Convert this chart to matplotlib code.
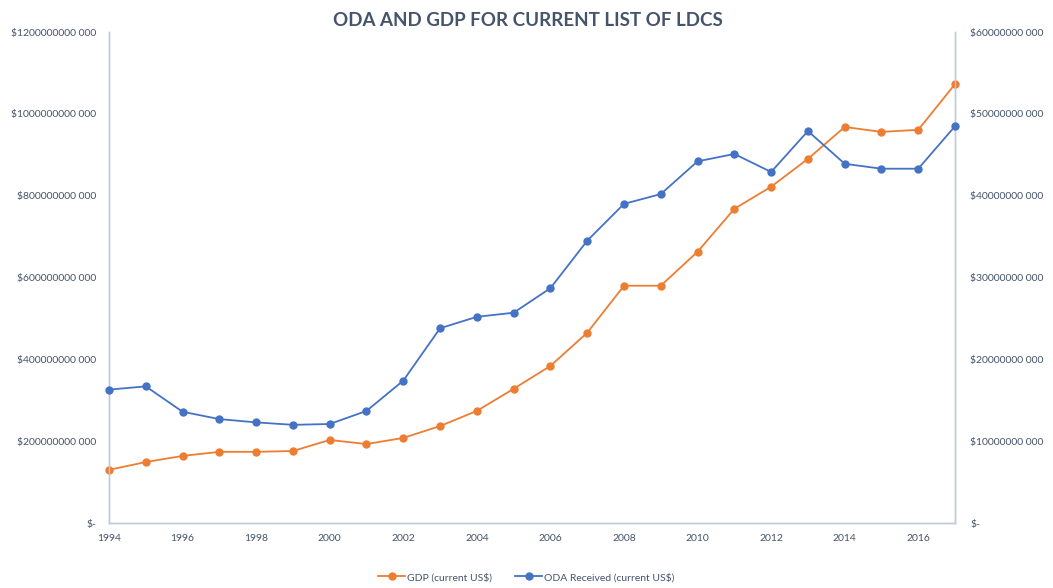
import matplotlib
matplotlib.use("Agg")
import matplotlib.pyplot as plt
from matplotlib.ticker import FixedLocator, FuncFormatter

years = list(range(1994, 2018))
gdp = [130e9, 149e9, 164e9, 174e9, 174e9, 176e9, 203e9, 193e9, 208e9, 237e9,
       274e9, 328e9, 384e9, 465e9, 580e9, 580e9, 663e9, 768e9, 822e9, 890e9,
       968e9, 956e9, 961e9, 1073e9]
oda = [16.3e9, 16.7e9, 13.6e9, 12.7e9, 12.3e9, 12.0e9, 12.1e9, 13.7e9, 17.4e9, 23.8e9,
       25.2e9, 25.7e9, 28.7e9, 34.5e9, 39.0e9, 40.2e9, 44.2e9, 45.1e9, 42.9e9, 47.9e9,
       43.9e9, 43.3e9, 43.3e9, 48.5e9]
x_ticks = list(range(1994, 2017, 2))
left_ticks = [0, 200e9, 400e9, 600e9, 800e9, 1000e9, 1200e9]
right_ticks = [0, 10e9, 20e9, 30e9, 40e9, 50e9, 60e9]
title = "ODA AND GDP FOR CURRENT LIST OF LDCS"
gdp_label = "GDP (current US$)"
oda_label = "ODA Received (current US$)"

plt.rcParams['font.family'] = ['Lato', 'DejaVu Sans']
TXT = '#44546A'
SPINE = '#C0C9D9'
ORANGE = '#ED7D31'
BLUE = '#4472C4'


def fmt(v, pos):
    if v == 0:
        return '$-'
    s = str(int(round(v)))
    return '$' + s[:-3] + ' ' + s[-3:]


fig = plt.figure(figsize=(10.53, 5.88), dpi=100)
ax = fig.add_axes([0.1035, 0.1105, 0.8035, 0.835])
ax2 = ax.twinx()

l1, = ax.plot(years, gdp, color=ORANGE, marker='o', markersize=5, linewidth=1.3,
              label=gdp_label, clip_on=False, zorder=3)
l2, = ax2.plot(years, oda, color=BLUE, marker='o', markersize=5, linewidth=1.3,
               label=oda_label, clip_on=False, zorder=3)

ax.set_xlim(1994, 2017)
ax.set_ylim(0, 1200e9)
ax2.set_ylim(0, 60e9)
ax.xaxis.set_major_locator(FixedLocator(x_ticks))
ax.yaxis.set_major_locator(FixedLocator(left_ticks))
ax2.yaxis.set_major_locator(FixedLocator(right_ticks))
ax.yaxis.set_major_formatter(FuncFormatter(fmt))
ax2.yaxis.set_major_formatter(FuncFormatter(fmt))

for a in (ax, ax2):
    a.spines['top'].set_visible(False)
    for s in ('left', 'right', 'bottom'):
        a.spines[s].set_color(SPINE)
        a.spines[s].set_linewidth(1.0)
    a.tick_params(axis='both', length=0, colors=TXT, labelsize=7.5)
ax.tick_params(axis='y', pad=9)
ax2.tick_params(axis='y', pad=11)
ax.tick_params(axis='x', pad=8)

fig.text(0.5015, 0.965, title, ha='center', va='center', fontsize=13.5,
         fontweight='bold', color=TXT)

fig.legend(handles=[l1, l2], loc='center', bbox_to_anchor=(0.5, 0.018), ncol=2,
           frameon=False, fontsize=7.5, labelcolor=TXT, handlelength=2.6,
           columnspacing=2.2, handletextpad=0.2)

fig.savefig('out.png', dpi=100)
